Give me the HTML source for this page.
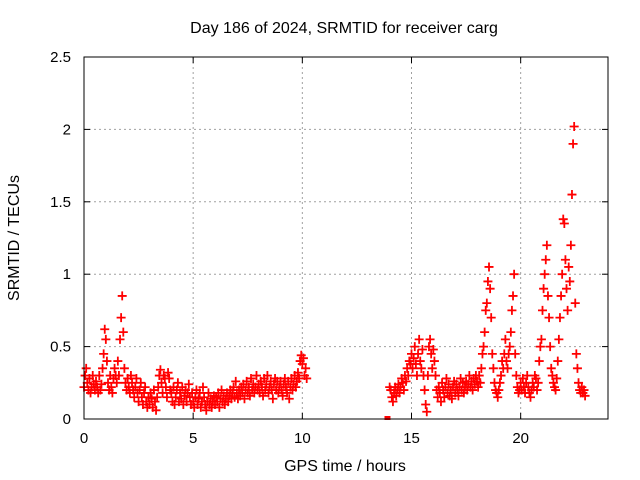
<!DOCTYPE html>
<html><head><meta charset="utf-8"><style>
body{margin:0;background:#fff}
svg{display:block;font-family:"Liberation Sans",sans-serif}
</style></head><body>
<svg id="chart" width="640" height="480" xmlns="http://www.w3.org/2000/svg">
<rect width="640" height="480" fill="#fff"/>
<text x="344" y="33" font-size="16" text-anchor="middle">Day 186 of 2024, SRMTID for receiver carg</text>
<text x="345" y="471" font-size="16" text-anchor="middle">GPS time / hours</text>
<text transform="translate(19,238) rotate(-90)" font-size="16" text-anchor="middle">SRMTID / TECUs</text>
<g id="grid"></g>
<g id="marks"></g>
<rect x="84" y="57" width="524" height="362" fill="none" stroke="#000" stroke-width="1"/>
</svg>
<script>
const xTicks=[0,5,10,15,20];
const yTicks=[0,0.5,1,1.5,2,2.5];
const yTickLabels=["0","0.5","1","1.5","2","2.5"];
const seg1Start=0, seg2Start=14.0, step=0.05;
const seg1Values=[
.22,.30,.35,.25,.20,.28,.18,.22,.30,.24,.20,.26,.22,.18,.30,.20,.24,.35,.45,.62,
.55,.40,.25,.20,.30,.22,.18,.28,.35,.30,.25,.40,.30,.55,.70,.85,.60,.35,.25,.20,
.28,.22,.18,.30,.25,.20,.15,.22,.28,.18,.12,.20,.25,.15,.10,.18,.22,.12,.08,.15,
.10,.18,.14,.08,.20,.12,.06,.15,.22,.30,.34,.25,.18,.30,.28,.22,.15,.32,.28,.20,
.18,.12,.22,.10,.15,.20,.25,.12,.18,.14,.22,.10,.16,.20,.12,.18,.24,.15,.10,.18,
.12,.08,.15,.20,.10,.14,.18,.08,.12,.22,.15,.10,.06,.12,.18,.10,.14,.08,.12,.16,
.10,.15,.12,.18,.08,.14,.20,.12,.16,.10,.14,.18,.12,.16,.20,.14,.18,.22,.15,.26,
.18,.14,.20,.16,.22,.18,.24,.14,.20,.26,.18,.22,.16,.28,.20,.24,.18,.22,.30,.20,
.24,.18,.26,.22,.16,.28,.20,.24,.30,.18,.22,.26,.20,.14,.24,.28,.20,.26,.18,.22,
.26,.20,.16,.24,.28,.22,.18,.26,.14,.22,.28,.20,.24,.30,.22,.26,.32,.28,.40,.44,
.38,.42,.30,.35,.28];
const seg2Values=[
.22,.20,.15,.12,.18,.22,.16,.20,.24,.18,.22,.28,.25,.20,.30,.26,.35,.30,.40,.38,
.45,.35,.42,.50,.38,.30,.45,.55,.40,.35,.48,.30,.20,.10,.05,.30,.50,.55,.45,.35,
.48,.40,.30,.20,.15,.22,.18,.12,.25,.20,.15,.22,.28,.18,.24,.16,.20,.14,.22,.26,
.18,.24,.20,.16,.22,.28,.20,.25,.18,.22,.26,.20,.24,.30,.22,.26,.20,.28,.24,.30,
.26,.22,.30,.25,.35,.45,.50,.60,.75,.80,.95,1.05,.90,.70,.45,.35,.25,.20,.18,.15,
.20,.25,.30,.40,.35,.45,.55,.40,.35,.45,.50,.60,.75,.85,1.0,.45,.30,.22,.18,.20,
.25,.20,.28,.22,.18,.25,.30,.22,.18,.15,.20,.25,.22,.30,.28,.20,.25,.40,.50,.55,
.75,.90,1.0,1.1,1.2,.85,.70,.50,.35,.30,.25,.22,.20,.28,.40,.55,.70,.85,1.0,1.38,
1.35,1.1,.90,.75,1.05,.95,1.2,1.55,1.9,2.02,.80,.45,.35,.25,.20,.18,.22,.18,.20,.16];
const isolatedTimes=[13.9];
const isolatedValues=[0.0];

const NS="http://www.w3.org/2000/svg";
function xs(h){return 84+h*(524/24);}
function ys(v){return 419-v*(362/2.5);}
const grid=document.getElementById('grid');
const marks=document.getElementById('marks');
const svg=document.getElementById('chart');
function mk(tag,attrs,parent){const e=document.createElementNS(NS,tag);for(const k in attrs)e.setAttribute(k,attrs[k]);parent.appendChild(e);return e;}
xTicks.forEach(t=>{
  const x=xs(t);
  if(t>0){const g=mk('line',{x1:x,x2:x,y1:57,y2:419,stroke:'#a0a0a0','stroke-dasharray':'2,3'},grid);
  
  }
  mk('line',{x1:x,x2:x,y1:419,y2:413,stroke:'#000'},grid);
  mk('line',{x1:x,x2:x,y1:57,y2:63,stroke:'#000'},grid);
  const l=mk('text',{x:x,y:443,'font-size':15,'text-anchor':'middle'},svg);
  l.textContent=t;
  
  
});
yTicks.forEach((t,i)=>{
  const y=ys(t);
  if(t>0&&t<2.5){const g=mk('line',{x1:84,x2:608,y1:y,y2:y,stroke:'#a0a0a0','stroke-dasharray':'2,3'},grid);
  
  }
  mk('line',{x1:84,x2:90,y1:y,y2:y,stroke:'#000'},grid);
  mk('line',{x1:608,x2:602,y1:y,y2:y,stroke:'#000'},grid);
  const l=mk('text',{x:71,y:y+5,'font-size':15,'text-anchor':'end'},svg);
  l.textContent=yTickLabels[i];
  
  
});
function cross(h,v){
  const x=xs(h),y=ys(v);
  const p=mk('path',{d:`M${x-4.5},${y}h9M${x},${y-4.5}v9`,stroke:'#ff0000','stroke-width':1.8,fill:'none'},marks);
  
  
}
seg1Values.forEach((v,i)=>cross(seg1Start+i*step,v));
seg2Values.forEach((v,i)=>cross(seg2Start+i*step,v));
isolatedTimes.forEach((h,i)=>{
  const r=mk('rect',{x:xs(h)-3,y:ys(isolatedValues[i])-3,width:6,height:4,fill:'#ff0000'},marks);
  
  
});
</script>
</body></html>
